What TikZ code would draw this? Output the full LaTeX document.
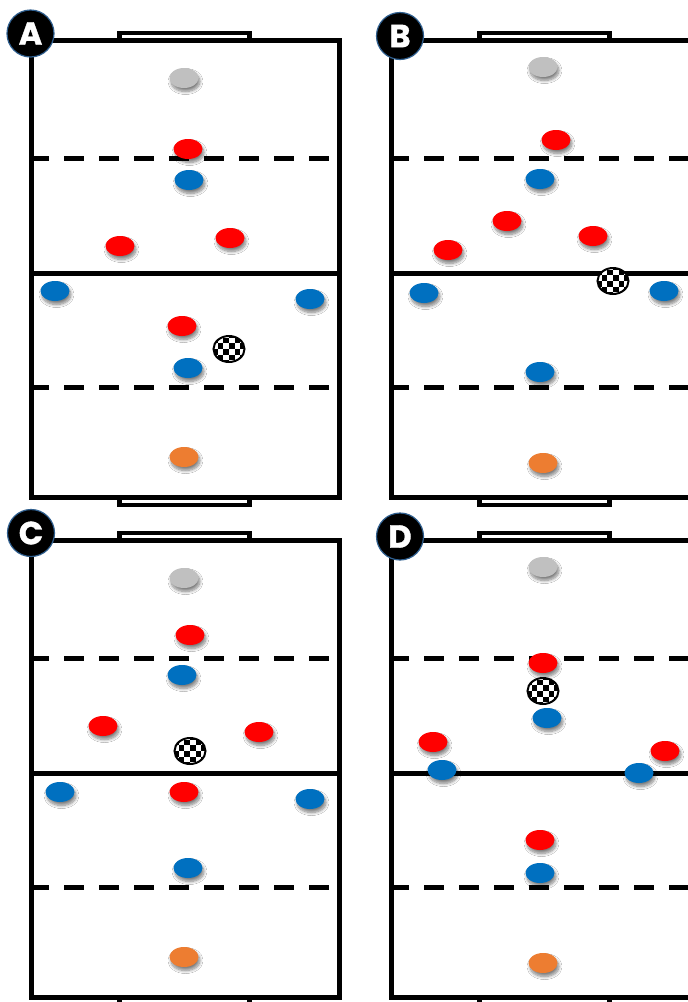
\documentclass[tikz,border=0pt]{standalone}
\usepackage{fontspec}
\usetikzlibrary{shapes.geometric,shadows.blur}
\newfontfamily\badgefont{Poppins}[BoldFeatures={FakeBold=1.2}]
\definecolor{pred}{HTML}{FF0000}
\definecolor{pblue}{HTML}{0070C0}
\definecolor{pgray}{HTML}{C0C0C0}
\definecolor{porange}{HTML}{ED7D31}
\definecolor{ringblue}{HTML}{2F5F8F}
\tikzset{
  pitchline/.style={draw=black,line width=5pt},
  zoneline/.style={draw=black,line width=5pt,dash pattern=on 20pt off 15pt},
  goalline/.style={draw=black,line width=4.5pt},
  badge/.style={circle,fill=black,draw=ringblue,line width=1.2pt,minimum size=47pt,inner sep=0pt,text=white,font=\badgefont\bfseries\fontsize{32}{32}\selectfont},
  player/.style={ellipse,minimum width=29pt,minimum height=20pt,inner sep=0pt,blur shadow={shadow xshift=1.5pt,shadow yshift=-3.5pt,shadow blur steps=8,shadow blur radius=3pt,shadow opacity=50}},
  ball/.style={ellipse,draw=black,line width=2pt,fill=white,minimum width=31pt,minimum height=26pt,inner sep=0pt,
    path picture={\foreach \i in {-3,...,2}{\foreach \j in {-3,...,2}{\pgfmathtruncatemacro\odd{mod(\i+\j+6,2)}\ifnum\odd=0 \fill[black] ([shift={(\i*5.6pt,\j*5.6pt)}]path picture bounding box.center) rectangle ++(5.6pt,5.6pt);\fi}}}}
}
\begin{document}
\begin{tikzpicture}[x=1pt,y=-1pt]
\path[use as bounding box] (0,0) rectangle (688,1002);
\clip (0,0) rectangle (688,1002);
\fill[white] (0,0) rectangle (688,1002);
\foreach \px/\py in {31/40,391/40,31/540,391/540}{
  \draw[goalline] (\px+88.5,\py-7) rectangle (\px+218.5,\py); \draw[goalline] (\px+88.5,\py+457.5) rectangle (\px+218.5,\py+465);
  \draw[pitchline] (\px,\py) rectangle ++(308,457.5); \draw[pitchline] (\px,\py+233) -- ++(308,0);
  \draw[zoneline] (\px-2,\py+118.5) -- ++(310,0); \draw[zoneline] (\px-2,\py+347) -- ++(310,0);
}
\node[badge] (labA) at (30.5,33.5) {A}; \node[badge] (labB) at (400,36) {B};
\node[badge] (labC) at (31,533) {C}; \node[badge] (labD) at (400,536.5) {D};
\foreach \n/\x/\y in {ga/184/78,gb/543/67,gc/184/578,gd/543/567} \node[player,fill=pgray] (\n) at (\x,\y) {};
\foreach \n/\x/\y in {oa/184/457,ob/543/463,oc/184/957,od/543/963} \node[player,fill=porange] (\n) at (\x,\y) {};
\foreach \n/\x/\y in {ra1/188/149,ra2/120/246,ra3/230/238,ra4/182/326,rb1/556/140,rb2/507/221,rb3/448/250,rb4/593/236,rc1/190/635,rc2/103/726,rc3/259/732,rc4/184/792,rd1/543/663,rd2/433/742,rd3/665/751,rd4/540/840} \node[player,fill=pred] (\n) at (\x,\y) {};
\foreach \n/\x/\y in {ba1/189/180,ba2/55/291,ba3/310/299,ba4/188/368,bb1/540/179,bb2/424/293,bb3/664/291,bb4/540/372,bc1/182/675,bc2/60/792,bc3/310/799,bc4/188/868,bd1/547/718,bd2/442/770,bd3/639/773,bd4/540/873} \node[player,fill=pblue] (\n) at (\x,\y) {};
\node[ball] (ballA) at (229,349) {}; \node[ball] (ballB) at (613,281) {};
\node[ball] (ballC) at (190,751) {}; \node[ball] (ballD) at (543,691) {};
\end{tikzpicture}
\end{document}
